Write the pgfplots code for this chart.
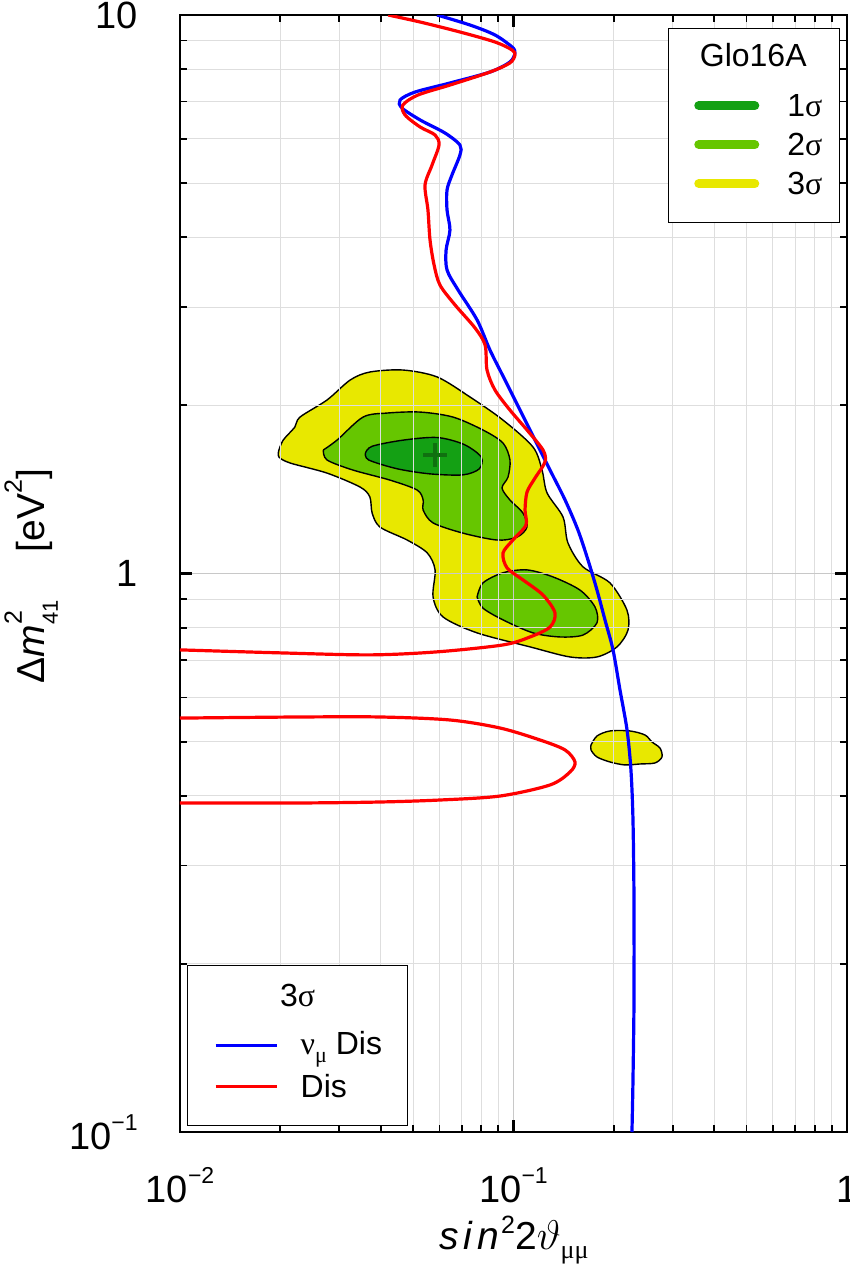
\documentclass[border=0pt]{standalone}
\usepackage{fontspec}
\setmainfont{Liberation Sans}
\newfontfamily\greek{Liberation Serif}
\usepackage{pgfplots}
\pgfplotsset{compat=1.18}

\definecolor{sigone}{RGB}{20,160,20}
\definecolor{sigtwo}{RGB}{102,198,0}
\definecolor{sigthree}{RGB}{232,232,0}
\definecolor{bestfit}{RGB}{16,112,16}
\definecolor{gridmaj}{RGB}{200,200,200}
\definecolor{gridmin}{RGB}{222,222,222}

\newcommand\tsup[1]{\raisebox{9.5pt}{\fontsize{11.5}{12}\selectfont #1}}

\begin{document}
\begin{tikzpicture}
\begin{axis}[
  scale only axis, width=333.5pt, height=558.5pt,
  xmode=log, ymode=log, xmin=0.01, xmax=1, ymin=0.1, ymax=10,
  axis on top,
  axis line style={line width=1.3pt},
  major tick style={line width=1.1pt, black},
  minor tick style={line width=0.9pt, black},
  major tick length=6pt, minor tick length=3.5pt,
  grid=both,
  major grid style={gridmaj, line width=0.7pt},
  minor grid style={gridmin, line width=0.5pt},
  xtick={0.01,0.1,1}, xticklabels={10\tsup{−2},10\tsup{−1},1},
  ytick={0.1,1,10}, yticklabels={10\tsup{−1},1,10},
  ticklabel style={font=\fontsize{19}{22}\selectfont, inner sep=0pt},
  xticklabel style={anchor=base, yshift=-35pt},
  yticklabel style={anchor=east, xshift=-21pt},
  every axis x label/.style={at={(rel axis cs:0.5007,-0.1056)}, anchor=base, font=\fontsize{19.5}{22}\selectfont, inner sep=0pt},
  every axis y label/.style={at={(rel axis cs:-0.2024,0.4978)}, rotate=90, anchor=base, font=\fontsize{19.5}{22}\selectfont, inner sep=0pt},
  xlabel={\textit{s\kern2.5pt i\kern2.5pt n}\kern1pt\raisebox{8pt}{\fontsize{12.5}{13}\selectfont 2}2$\vartheta$\raisebox{-4.5pt}{\fontsize{13}{13}\selectfont\greek μμ}},
  ylabel={Δ\textit{m}\rlap{\raisebox{11.5pt}{\fontsize{12.5}{13}\selectfont 2}}\raisebox{-6.5pt}{\fontsize{11}{12}\selectfont 41}\hspace{24pt}[eV\raisebox{11.5pt}{\fontsize{12.5}{13}\selectfont 2}]},
  legend style={at={(rel axis cs:0.9895,0.9884)}, anchor=north east,
    draw=black, line width=0.7pt, fill=white,
    inner xsep=0pt, inner ysep=0pt,
    nodes={inner sep=0pt, text depth=, font=\fontsize{16}{18}\selectfont},
    /tikz/column sep=0pt, /tikz/row sep=0pt},
  legend cell align=left,
  legend image code/.code={
    \path[draw=none, fill=none] (-13pt,0pt) -- (46.5pt,0pt);
    \draw[#1, line width=4.5pt, line cap=round] (2.25pt,0pt) -- (30.25pt,0pt);
  },
]
% 3 sigma main region
\addplot[fill=sigthree, draw=black, line width=0.7pt, smooth, forget plot] coordinates {
(0.0198,1.664) (0.0204,1.734) (0.0221,1.829) (0.0229,1.906) (0.0276,2.045) (0.0324,2.221) (0.0371,2.295) (0.0466,2.314) (0.0590,2.249) (0.0741,2.070) (0.0930,1.883) (0.1144,1.685) (0.1218,1.532) (0.1261,1.394) (0.1408,1.262) (0.1457,1.134) (0.1616,1.028) (0.1947,0.962) (0.2189,0.860) (0.2205,0.792) (0.2044,0.739) (0.1780,0.709) (0.1477,0.709) (0.1121,0.739) (0.0778,0.783) (0.0615,0.836) (0.0574,0.908) (0.0582,1.015) (0.0551,1.089) (0.0480,1.148) (0.0398,1.211) (0.0377,1.283) (0.0371,1.371) (0.0347,1.428) (0.0276,1.513) (0.0214,1.577) (0.0198,1.617) (0.0198,1.664)};
% 3 sigma island
\addplot[fill=sigthree, draw=black, line width=0.7pt, smooth, forget plot] coordinates {
(0.1708,0.4931) (0.1780,0.5118) (0.1947,0.5225) (0.2235,0.5225) (0.2479,0.5139) (0.2602,0.4993) (0.2750,0.4870) (0.2788,0.4694) (0.2656,0.4579) (0.2395,0.4560) (0.2159,0.4542) (0.1947,0.4598) (0.1780,0.4694) (0.1708,0.4831) (0.1708,0.4931)};
% 2 sigma upper
\addplot[fill=sigtwo, draw=black, line width=0.7pt, smooth, forget plot] coordinates {
(0.0269,1.664) (0.0296,1.734) (0.0354,1.906) (0.0418,1.938) (0.0525,1.946) (0.0659,1.906) (0.0810,1.807) (0.0930,1.713) (0.0976,1.597) (0.0963,1.488) (0.0924,1.423) (0.0976,1.354) (0.1068,1.283) (0.1098,1.211) (0.1025,1.162) (0.0893,1.148) (0.0706,1.181) (0.0574,1.232) (0.0536,1.299) (0.0536,1.354) (0.0514,1.411) (0.0426,1.470) (0.0330,1.532) (0.0276,1.597) (0.0269,1.664)};
% 2 sigma lower
\addplot[fill=sigtwo, draw=black, line width=0.7pt, smooth, forget plot] coordinates {
(0.0778,0.908) (0.0810,0.962) (0.0930,1.003) (0.1098,1.015) (0.1314,0.986) (0.1583,0.934) (0.1756,0.871) (0.1780,0.816) (0.1616,0.776) (0.1379,0.770) (0.1144,0.783) (0.0930,0.826) (0.0810,0.867) (0.0778,0.908)};
% 1 sigma
\addplot[fill=sigone, draw=black, line width=0.7pt, smooth, forget plot] coordinates {
(0.0360,1.644) (0.0377,1.690) (0.0466,1.733) (0.0590,1.752) (0.0710,1.703) (0.0800,1.617) (0.0790,1.540) (0.0706,1.502) (0.0562,1.508) (0.0448,1.540) (0.0368,1.597) (0.0360,1.644)};
% best fit
\addplot[only marks, mark=+, mark size=6pt, bestfit, mark options={line width=2.2pt}, forget plot] coordinates {(0.0582,1.630)};

\addlegendimage{empty legend}
\addlegendentry{\makebox[26pt][l]{\hspace*{-17pt}\makebox[0pt]{Glo16A}}\rule[-9.85pt]{0pt}{28.75pt}}
\addlegendimage{sigone}
\addlegendentry{\makebox[26pt][l]{1{\greek σ}}\rule[-4.35pt]{0pt}{19.5pt}}
\addlegendimage{sigtwo}
\addlegendentry{\makebox[26pt][l]{2{\greek σ}}\rule[-4.35pt]{0pt}{19.5pt}}
\addlegendimage{sigthree}
\addlegendentry{\makebox[26pt][l]{3{\greek σ}}\rule[-4.35pt]{0pt}{19.5pt}}
\addlegendimage{empty legend}
\addlegendentry{\rule{0pt}{9.75pt}}

\coordinate (sw) at (rel axis cs:0,0);
\end{axis}

\begin{axis}[
  scale only axis, width=333.5pt, height=558.5pt,
  xmode=log, ymode=log, xmin=0.01, xmax=1, ymin=0.1, ymax=10,
  hide axis,
  legend style={at={(rel axis cs:0.0105,0.1495)}, anchor=north west,
    draw=black, line width=0.7pt, fill=white,
    inner xsep=0pt, inner ysep=0pt,
    nodes={inner sep=0pt, text depth=, font=\fontsize{16}{18}\selectfont},
    /tikz/column sep=0pt, /tikz/row sep=0pt},
  legend cell align=left,
  legend image code/.code={
    \path[draw=none, fill=none] (-14pt,0pt) -- (42.5pt,0pt);
    \draw[#1, line width=1.5pt] (0pt,0pt) -- (30.5pt,0pt);
  },
]
\addlegendimage{empty legend}
\addlegendentry{\makebox[53.5pt][l]{\hspace*{-1.5pt}\makebox[0pt]{3{\greek σ}}}\rule[-8.85pt]{0pt}{29.25pt}}

\addplot[color={rgb,255:red,0;green,0;blue,255}, line width=1.6pt, smooth] coordinates {
(0.0590,10) (0.0741,9.595) (0.0880,9.21) (0.0990,8.765) (0.1010,8.552) (0.0976,8.24) (0.0850,7.906) (0.0645,7.556) (0.0507,7.28) (0.0457,7.045) (0.0463,6.816) (0.0525,6.487) (0.0623,6.149) (0.0691,5.852) (0.0691,5.616) (0.0654,5.171) (0.0632,4.861) (0.0632,4.477) (0.0645,4.122) (0.0628,3.796) (0.0632,3.495) (0.0682,3.219) (0.0778,2.844) (0.0850,2.513) (0.0943,2.221) (0.1046,1.962) (0.1160,1.734) (0.1287,1.532) (0.1428,1.354) (0.1561,1.196) (0.1673,1.057) (0.1780,0.934) (0.1881,0.826) (0.1988,0.730) (0.2086,0.619) (0.2190,0.525) (0.2250,0.445) (0.2282,0.362) (0.2298,0.260) (0.2298,0.172) (0.2282,0.1239) (0.2266,0.1)};
\addlegendentry{\makebox[53.5pt][l]{{\greek ν}\raisebox{-4pt}{\fontsize{11}{12}\selectfont\greek μ} Dis}\rule[-4.35pt]{0pt}{19.5pt}}

\addplot[color={rgb,255:red,255;green,0;blue,0}, line width=1.6pt, smooth] coordinates {
(0.0421,10) (0.0525,9.715) (0.0691,9.324) (0.0880,8.948) (0.0990,8.658) (0.1010,8.481) (0.0976,8.207) (0.0850,7.906) (0.0645,7.493) (0.0517,7.191) (0.0466,6.901) (0.0473,6.623) (0.0525,6.302) (0.0582,6.098) (0.0598,5.852) (0.0570,5.388) (0.0543,4.962) (0.0554,4.477) (0.0562,3.956) (0.0578,3.568) (0.0602,3.285) (0.0668,3.026) (0.0767,2.752) (0.0822,2.565) (0.0833,2.314) (0.0880,2.131) (0.0976,1.962) (0.1098,1.807) (0.1226,1.664) (0.1243,1.584) (0.1160,1.482) (0.1098,1.399) (0.1083,1.299) (0.1090,1.221) (0.0996,1.148) (0.0930,1.088) (0.0957,1.023) (0.1068,0.974) (0.1226,0.915) (0.1332,0.850) (0.1287,0.802) (0.1121,0.770) (0.0930,0.745) (0.0590,0.724) (0.0371,0.715) (0.0200,0.721) (0.0100,0.730)};
\addlegendentry{\makebox[53.5pt][l]{Dis}\rule[-4.35pt]{0pt}{19.5pt}}

\addplot[color={rgb,255:red,255;green,0;blue,0}, line width=1.6pt, smooth, forget plot] coordinates {
(0.0100,0.551) (0.0229,0.5535) (0.0398,0.5535) (0.0645,0.5467) (0.0911,0.5289) (0.1201,0.5034) (0.1428,0.4831) (0.1529,0.4598) (0.1477,0.4411) (0.1287,0.4182) (0.0911,0.3996) (0.0602,0.3931) (0.0398,0.3899) (0.0229,0.3883) (0.0100,0.3883)};

\addlegendimage{empty legend}
\addlegendentry{\rule{0pt}{9.75pt}}
\end{axis}

\pgfresetboundingbox
\path ([shift={(-90pt,-75pt)}]sw) rectangle ([shift={(335pt,566pt)}]sw);
\end{tikzpicture}
\end{document}
